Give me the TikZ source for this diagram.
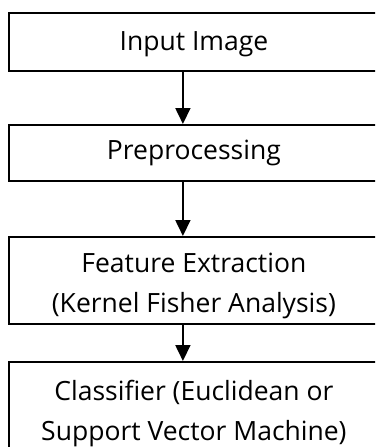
\documentclass[tikz,border=0pt]{standalone}
\usepackage{fontspec}
\setmainfont{Open Sans}
\usetikzlibrary{arrows.meta}

\begin{document}
\begin{tikzpicture}[x=1pt, y=-1pt,
    box/.style={rectangle, draw, line width=1.8pt, minimum width=370pt, anchor=north west,
        align=center, inner sep=0pt, font=\fontsize{26.5}{40}\selectfont},
    arr/.style={line width=1.8pt, -{Triangle[length=16pt, width=15pt]}}]
    \clip (0, 0) rectangle (375, 447);
    \node (A) [box, minimum height=58pt, text height=23pt] at (8, 12) {Input Image};
    \node (B) [box, minimum height=56pt] at (8, 124) {Preprocessing};
    \node (C) [box, minimum height=87pt, text height=70pt] at (8, 236) {Feature Extraction\\(Kernel Fisher Analysis)};
    \node (D) [box, minimum height=94pt, text height=70pt] at (8, 361) {Classifier (Euclidean or\\Support Vector Machine)};
    \draw [arr] ([xshift=-11pt]A.south) -- ([xshift=-11pt]B.north);
    \draw [arr] ([xshift=-11pt]B.south) -- ([xshift=-11pt]C.north);
    \draw [arr] ([xshift=-11pt]C.south) -- ([xshift=-11pt]D.north);
\end{tikzpicture}
\end{document}
